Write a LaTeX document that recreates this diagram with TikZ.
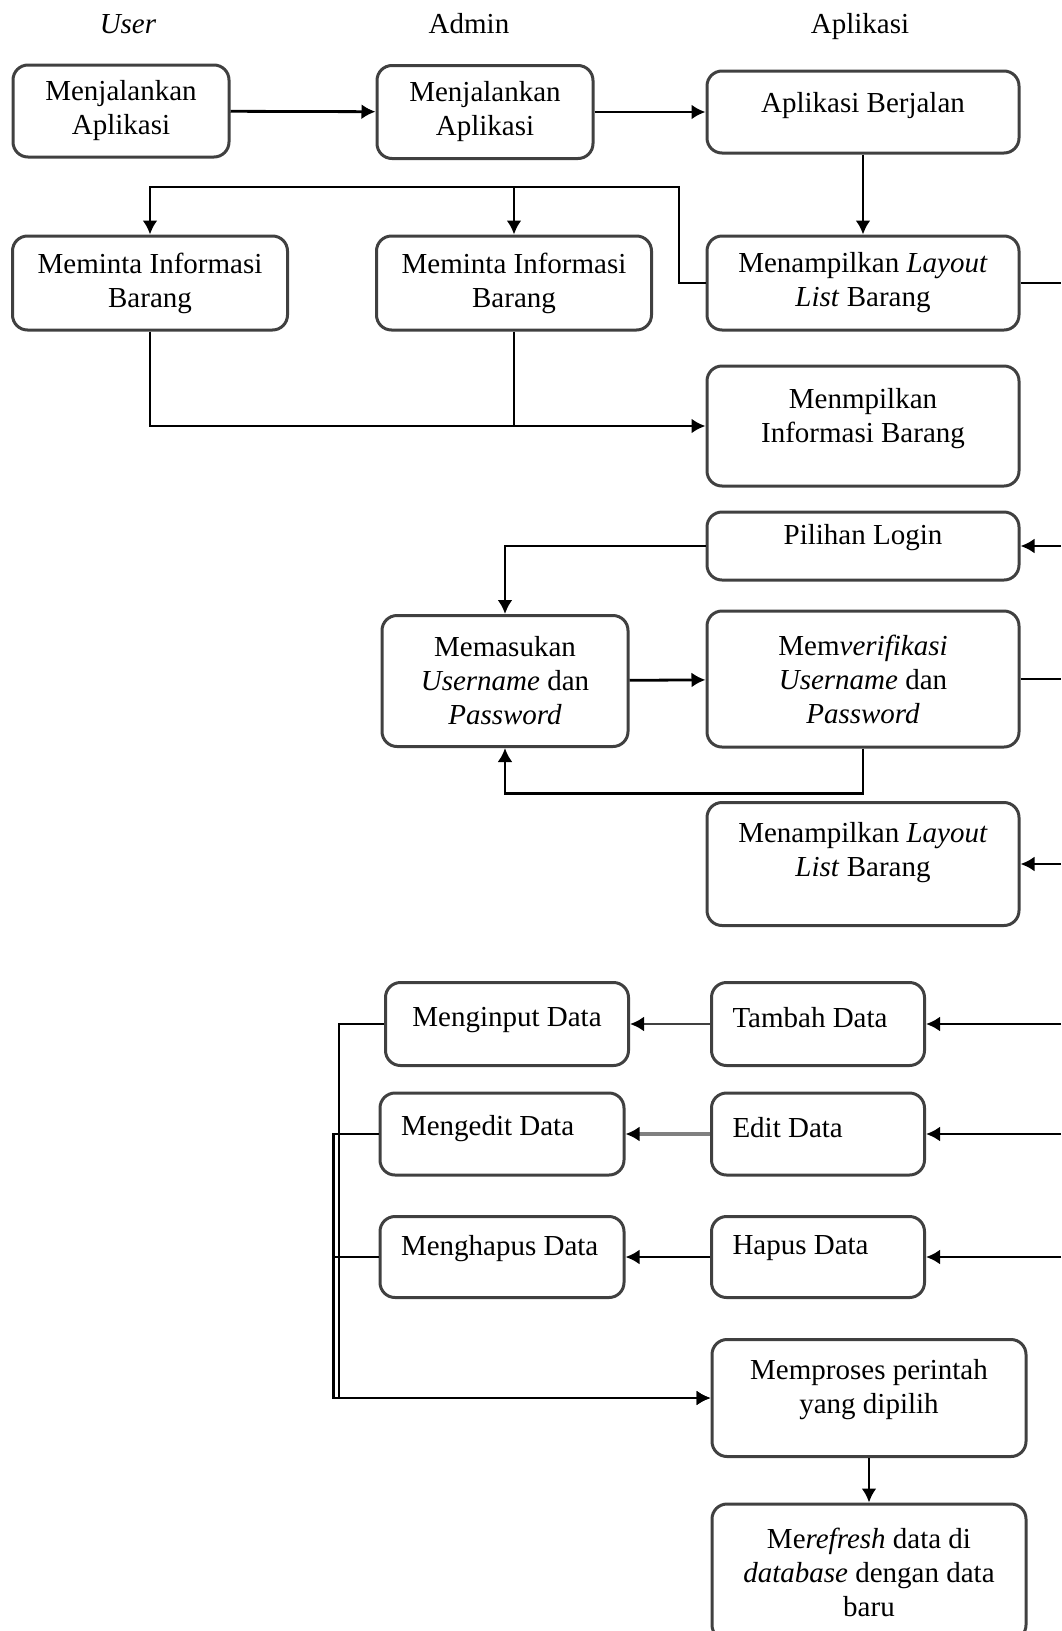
\documentclass[tikz,border=0pt]{standalone}
\usepackage{fontspec}
\setmainfont{Liberation Serif}
\usetikzlibrary{arrows.meta}
\tikzset{%
  >={Latex[width=15pt,length=14pt]},
  % Specifications for style of nodes:
      base/.style = {rectangle, rounded corners=15pt, draw=black!75,
                     line width=3pt, align=center, inner sep=0pt,
                     font=\fontsize{29}{34}\selectfont},
       box/.style 2 args = {base, minimum width=#1, minimum height=#2},
   leftbox/.style = {align=flush left, inner xsep=21pt, text width=#1},
      lift/.style = {text depth=#1},
      head/.style = {anchor=base, font=\fontsize{29}{34}\selectfont},
      link/.style = {line width=2.8pt, draw=black},
  greylink/.style = {link, -{Latex[width=15pt,length=14pt,color=black]}},
}

\begin{document}
\begin{tikzpicture}[x=1pt, y=-1pt]
  \useasboundingbox (0,0) rectangle (1061,1631);
  % Column headings
  \node (userHead)  [head] at (128,33) {\textit{User}};
  \node (adminHead) [head] at (469,33) {Admin};
  \node (appHead)   [head] at (860,33) {Aplikasi};
  % Specification of nodes (position, etc.)
  \node (userRun)    [box={216}{92}]             at (121,111)  {Menjalankan\\Aplikasi};
  \node (adminRun)   [box={216}{93}]             at (485,112)  {Menjalankan\\Aplikasi};
  \node (appRun)     [box={312}{82}, lift=20]    at (863,112)  {Aplikasi Berjalan};
  \node (userAsk)    [box={275}{94}]             at (150,283)  {Meminta Informasi\\Barang};
  \node (adminAsk)   [box={275}{94}]             at (514,283)  {Meminta Informasi\\Barang};
  \node (appLayout)  [box={312}{94}]             at (863,283)  {Menampilkan \textit{Layout}\\\textit{List} Barang};
  \node (appInfo)    [box={312}{120}, lift=22]   at (863,426)  {Menmpilkan\\Informasi Barang};
  \node (appLogin)   [box={312}{68}, lift=24]    at (863,546)  {Pilihan Login};
  \node (adminLogin) [box={246}{131}]            at (505,681)  {Memasukan\\\textit{Username} dan\\\textit{Password}};
  \node (appVerify)  [box={312}{136}]            at (863,679)  {Mem\textit{verifikasi}\\\textit{Username} dan\\\textit{Password}};
  \node (appLayout2) [box={312}{123}, lift=30]   at (863,864)  {Menampilkan \textit{Layout}\\\textit{List} Barang};
  \node (adminInput) [box={243}{83}, lift=14]    at (507,1024) {Menginput Data};
  \node (appAdd)     [box={213}{83}, leftbox=171, lift=14] at (818,1024) {Tambah Data};
  \node (adminEdit)  [box={244}{82}, leftbox=202, lift=18] at (502,1134) {Mengedit Data};
  \node (appEdit)    [box={213}{82}, leftbox=171, lift=14] at (818,1134) {Edit Data};
  \node (adminDel)   [box={244}{81}, leftbox=202, lift=24] at (502,1257) {Menghapus Data};
  \node (appDel)     [box={213}{81}, leftbox=171, lift=24] at (818,1257) {Hapus Data};
  \node (appProcess) [box={314}{117}, lift=24]   at (869,1398) {Memproses perintah\\yang dipilih};
  \node (appRefresh) [box={314}{136}]            at (869,1572) {Me\textit{refresh} data di\\\textit{database} dengan data\\baru};

  \coordinate (rim)     at (1061,0);
  \coordinate (topRail) at (679,187);

  \draw[link,->] (userRun) -- (adminRun);
  \draw[link,->] (adminRun) -- (appRun);
  \draw[link,->] (appRun) -- (appLayout);
  \draw[link,->] (appLayout.west) -| (topRail) -| (userAsk.north);
  \draw[link,->] (topRail) -| (adminAsk.north);
  \draw[link,->] (userAsk.south) |- (appInfo.west);
  \draw[link]    (adminAsk.south) -- (adminAsk.south |- appInfo.west);
  \draw[link]    (appLayout.east) -- (appLayout.east -| rim);
  \draw[link,->] (appLogin.east -| rim) -- (appLogin.east);
  \draw[link,->] (appLogin.west) -| (adminLogin.north);
  \draw[link,->] (adminLogin) -- (appVerify);
  \draw[link,->] (appVerify.south) -- ++(0,45) -| (adminLogin.south);
  \draw[link]    (appVerify.east) -- (appVerify.east -| rim);
  \draw[link,->] (appLayout2.east -| rim) -- (appLayout2.east);
  \draw[link,->] (appAdd.east -| rim) -- (appAdd.east);
  \draw[link,->] (appEdit.east -| rim) -- (appEdit.east);
  \draw[link,->] (appDel.east -| rim) -- (appDel.east);
  \draw[greylink, draw=black!75] (appAdd) -- (adminInput);
  \draw[greylink, draw=black!50, line width=4pt] (appEdit) -- (adminEdit);
  \draw[link,->] (appDel) -- (adminDel);
  \draw[link,->] (adminInput.west) -- ++(-45,0) |- (appProcess.west);
  \draw[link,->] (adminEdit.west) -- ++(-45,0) |- (appProcess.west);
  \draw[link]    (adminDel.west) -- ++(-45,0);
  \draw[link,->] (appProcess) -- (appRefresh);
\end{tikzpicture}
\end{document}
